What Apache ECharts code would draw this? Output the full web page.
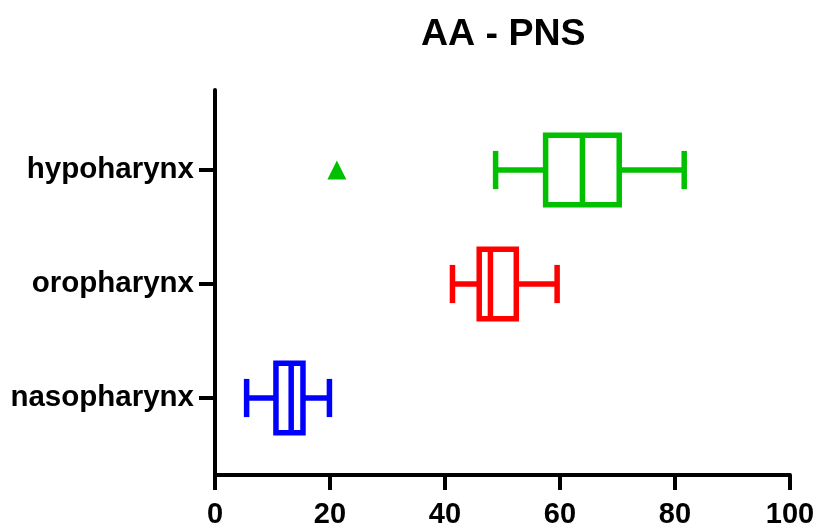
<!DOCTYPE html>
<html>
<head>
<meta charset="utf-8">
<script src="https://cdn.jsdelivr.net/npm/echarts@6/dist/echarts.min.js"></script>
<style>
  html, body { margin: 0; padding: 0; background: #fff; }
  #chart { width: 817px; height: 527px; }
</style>
</head>
<body>
<div id="chart"></div>
<script>
// box plot summary, bottom to top
const categories = ['nasopharynx', 'oropharynx', 'hypoharynx'];
const whiskerLow = [5.5, 41.3, 48.8];
const q1 = [10.6, 45.95, 57.5];
const median = [13.25, 47.9, 63.9];
const q3 = [15.3, 52.4, 70.3];
const whiskerHigh = [19.9, 59.5, 81.6];
const colors = ['#0000ff', '#ff0000', '#00c000'];
// outlier points: [value, category index]
const outliers = [[21.2, 2]];
const xTicks = [0, 20, 40, 60, 80, 100];

const font = "'Liberation Sans', Arial, sans-serif";

const boxData = categories.map((c, i) => [i, whiskerLow[i], q1[i], median[i], q3[i], whiskerHigh[i]]);

function renderBox(params, api) {
  const cat = api.value(0);
  const pLow = api.coord([api.value(1), cat]);
  const pQ1 = api.coord([api.value(2), cat]);
  const pMed = api.coord([api.value(3), cat]);
  const pQ3 = api.coord([api.value(4), cat]);
  const pHigh = api.coord([api.value(5), cat]);
  const band = api.size([0, 1])[1];
  const boxH = band * 0.61;
  const capH = band * 0.335;
  const y = pMed[1];
  const style = { stroke: colors[params.dataIndex], lineWidth: 5.5, fill: null };
  const line = (x1, y1, x2, y2) => ({ type: 'line', shape: { x1, y1, x2, y2 }, style });
  return {
    type: 'group',
    children: [
      line(pLow[0], y, pQ1[0], y),
      line(pQ3[0], y, pHigh[0], y),
      line(pLow[0], y - capH / 2, pLow[0], y + capH / 2),
      line(pHigh[0], y - capH / 2, pHigh[0], y + capH / 2),
      { type: 'rect', shape: { x: pQ1[0], y: y - boxH / 2, width: pQ3[0] - pQ1[0], height: boxH }, style },
      line(pMed[0], y - boxH / 2, pMed[0], y + boxH / 2)
    ]
  };
}

const chart = echarts.init(document.getElementById('chart'));
chart.setOption({
  animation: false,
  textStyle: { fontFamily: font },
  title: {
    text: 'AA - PNS',
    left: 416,
    top: 11,
    textStyle: { fontFamily: font, fontSize: 37.5, fontWeight: 'bold', color: '#000' }
  },
  grid: [
    { left: 215, right: 27, top: 90, bottom: 52, outerBoundsMode: 'none', containLabel: false },
    { left: 215, right: 27, top: 113, bottom: 72, outerBoundsMode: 'none', containLabel: false }
  ],
  xAxis: [
    {
      gridIndex: 0, type: 'value', min: xTicks[0], max: xTicks[xTicks.length - 1], interval: 20,
      axisLine: { show: true, lineStyle: { color: '#000', width: 4 } },
      axisTick: { show: true, length: 15, lineStyle: { color: '#000', width: 4 } },
      axisLabel: { margin: 25, fontSize: 29, fontWeight: 'bold', color: '#000', fontFamily: font },
      splitLine: { show: false }
    },
    { gridIndex: 1, type: 'value', min: 0, max: 100, show: false }
  ],
  yAxis: [
    {
      gridIndex: 0, type: 'value', min: 0, max: 1,
      axisLine: { show: true, lineStyle: { color: '#000', width: 4 } },
      axisTick: { show: false }, axisLabel: { show: false }, splitLine: { show: false }
    },
    {
      gridIndex: 1, type: 'category', data: categories,
      axisLine: { show: false },
      axisTick: { show: true, alignWithLabel: true, length: 16, lineStyle: { color: '#000', width: 4 } },
      axisLabel: { margin: 21, fontSize: 29.5, fontWeight: 'bold', color: '#000', fontFamily: font },
      splitLine: { show: false }
    }
  ],
  series: [
    {
      type: 'custom',
      xAxisIndex: 1, yAxisIndex: 1,
      renderItem: renderBox,
      encode: { x: [1, 2, 3, 4, 5], y: 0 },
      data: boxData,
      clip: false
    },
    {
      type: 'scatter',
      xAxisIndex: 1, yAxisIndex: 1,
      symbol: 'triangle',
      symbolSize: 19,
      itemStyle: { color: '#00c000', opacity: 1 },
      data: outliers
    }
  ]
});
</script>
</body>
</html>
